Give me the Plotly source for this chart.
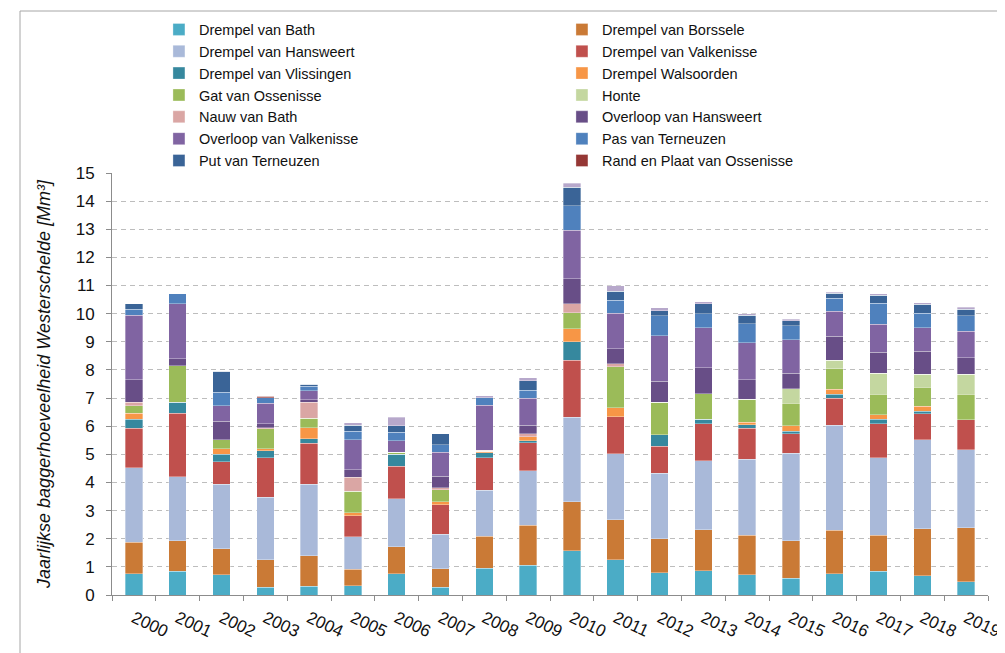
import plotly.graph_objects as go

# ── Data (Mm³ per year) ────────────────────────────────────────────────────────
years = [str(y) for y in range(2000, 2020)]

drempel_bath       = [0.76, 0.85, 0.72, 0.28, 0.32, 0.33, 0.75, 0.28, 0.95, 1.06, 1.57, 1.25, 0.79, 0.87, 0.72, 0.59, 0.76, 0.84, 0.69, 0.47]
drempel_borssele   = [1.11, 1.07, 0.93, 0.98, 1.07, 0.58, 0.96, 0.65, 1.13, 1.42, 1.75, 1.43, 1.21, 1.45, 1.41, 1.34, 1.55, 1.28, 1.66, 1.92]
drempel_hansweert  = [2.66, 2.29, 2.28, 2.21, 2.55, 1.16, 1.71, 1.23, 1.65, 1.94, 3.00, 2.34, 2.32, 2.45, 2.70, 3.10, 3.73, 2.76, 3.17, 2.78]
drempel_valkenisse = [1.40, 2.25, 0.81, 1.41, 1.45, 0.75, 1.16, 1.05, 1.15, 0.99, 2.02, 1.32, 0.97, 1.32, 1.09, 0.71, 0.95, 1.20, 0.93, 1.06]
drempel_vlissingen = [0.32, 0.39, 0.27, 0.25, 0.17, 0.00, 0.42, 0.00, 0.18, 0.08, 0.67, 0.00, 0.40, 0.15, 0.13, 0.08, 0.14, 0.16, 0.09, 0.00]
drempel_walsoorden = [0.21, 0.00, 0.19, 0.06, 0.38, 0.11, 0.00, 0.11, 0.05, 0.13, 0.45, 0.32, 0.00, 0.00, 0.09, 0.20, 0.19, 0.16, 0.17, 0.00]
gat_ossenisse      = [0.27, 1.30, 0.32, 0.72, 0.34, 0.75, 0.07, 0.42, 0.00, 0.00, 0.58, 1.46, 1.16, 0.91, 0.81, 0.79, 0.72, 0.74, 0.67, 0.91]
honte              = [0.00, 0.00, 0.00, 0.00, 0.00, 0.00, 0.00, 0.00, 0.00, 0.00, 0.00, 0.00, 0.00, 0.00, 0.00, 0.53, 0.30, 0.74, 0.47, 0.71]
nauw_bath          = [0.12, 0.00, 0.00, 0.03, 0.57, 0.50, 0.00, 0.08, 0.03, 0.12, 0.32, 0.10, 0.00, 0.00, 0.00, 0.00, 0.00, 0.00, 0.00, 0.00]
overloop_hansweert = [0.80, 0.24, 0.66, 0.14, 0.09, 0.27, 0.00, 0.40, 0.00, 0.30, 0.89, 0.53, 0.75, 0.93, 0.71, 0.55, 0.85, 0.74, 0.82, 0.59]
overloop_valkenisse= [2.29, 1.97, 0.55, 0.73, 0.32, 1.06, 0.42, 0.85, 1.61, 0.95, 1.72, 1.26, 1.61, 1.42, 1.30, 1.18, 0.89, 1.00, 0.83, 0.94]
pas_terneuzen      = [0.21, 0.35, 0.47, 0.21, 0.16, 0.31, 0.30, 0.27, 0.27, 0.29, 0.87, 0.46, 0.72, 0.50, 0.69, 0.50, 0.47, 0.75, 0.51, 0.55]
put_terneuzen      = [0.21, 0.00, 0.76, 0.00, 0.08, 0.22, 0.22, 0.40, 0.00, 0.34, 0.65, 0.32, 0.17, 0.36, 0.29, 0.18, 0.17, 0.29, 0.33, 0.23]
rand_plaat         = [0.00, 0.00, 0.00, 0.04, 0.00, 0.00, 0.00, 0.00, 0.00, 0.00, 0.00, 0.00, 0.00, 0.00, 0.00, 0.00, 0.00, 0.00, 0.00, 0.00]
# thin light-lilac top segment drawn in the bars but absent from the legend
overig             = [0.00, 0.00, 0.00, 0.00, 0.00, 0.08, 0.31, 0.00, 0.06, 0.10, 0.14, 0.21, 0.11, 0.07, 0.06, 0.05, 0.05, 0.04, 0.04, 0.06]

# ── Series: name, values, colour (bottom → top) ────────────────────────────────
SERIES = [
    ("Drempel van Bath",            drempel_bath,        "#4BACC6"),
    ("Drempel van Borssele",        drempel_borssele,    "#CA7A36"),
    ("Drempel van Hansweert",       drempel_hansweert,   "#A9B9D9"),
    ("Drempel van Valkenisse",      drempel_valkenisse,  "#C0504D"),
    ("Drempel van Vlissingen",      drempel_vlissingen,  "#36889E"),
    ("Drempel Walsoorden",          drempel_walsoorden,  "#F79646"),
    ("Gat van Ossenisse",           gat_ossenisse,       "#9BBB59"),
    ("Honte",                       honte,               "#C4D7A0"),
    ("Nauw van Bath",               nauw_bath,           "#DAA6A4"),
    ("Overloop van Hansweert",      overloop_hansweert,  "#684E87"),
    ("Overloop van Valkenisse",     overloop_valkenisse, "#8064A2"),
    ("Pas van Terneuzen",           pas_terneuzen,       "#4F81BD"),
    ("Put van Terneuzen",           put_terneuzen,       "#3A6497"),
    ("Rand en Plaat van Ossenisse", rand_plaat,          "#953735"),
]

FONT = "Liberation Sans, Arial, sans-serif"

# the page's body keeps its default 8px margin, so every position below is
# 8px up/left of where it ends up in the screenshot
W, H = 1005, 653
L, R, T, B = 104, 25, 165, 66
PW, PH = W - L - R, H - T - B

fig = go.Figure()
for name, vals, color in SERIES:
    fig.add_trace(go.Bar(
        x=years, y=vals, name=name,
        marker=dict(color=color, line=dict(color="rgba(255,255,255,0.55)", width=0.6)),
    ))
fig.add_trace(go.Bar(
    x=years, y=overig, name="Overig", showlegend=False,
    marker=dict(color="#B7A8CB", line=dict(color="rgba(255,255,255,0.55)", width=0.6)),
))

frame_x = (12 - L) / PW
frame_y = 1 + (T - 3) / PH

fig.update_layout(
    width=W, height=H,
    barmode="stack",
    bargap=0.6,
    paper_bgcolor="white",
    plot_bgcolor="white",
    font=dict(family=FONT, size=16, color="#262626"),
    margin=dict(l=L, r=R, t=T, b=B, autoexpand=False),
    legend=dict(
        orientation="h",
        traceorder="normal",
        xref="container", yref="container",
        x=0.1502, y=0.9916, xanchor="left", yanchor="top",
        entrywidth=358, entrywidthmode="pixels",
        font=dict(family=FONT, size=14.5, color="#111"),
        tracegroupgap=0,
        bgcolor="rgba(0,0,0,0)",
    ),
    xaxis=dict(
        type="category",
        tickangle=25,
        ticks="outside", tickson="boundaries", ticklen=5, tickcolor="#8C8C8C",
        ticklabelstandoff=6,
        showline=True, linecolor="#8C8C8C", linewidth=1,
        showgrid=False,
        tickfont=dict(family=FONT, size=17, color="#111"),
    ),
    yaxis=dict(
        range=[0, 15], dtick=1,
        ticks="outside", ticklen=5, tickcolor="#8C8C8C",
        ticklabelstandoff=8,
        showline=True, linecolor="#8C8C8C", linewidth=1,
        showgrid=True, gridcolor="#BDBDBD", gridwidth=1, griddash="5px,4px",
        zeroline=False,
        tickfont=dict(family=FONT, size=17, color="#111"),
        title=dict(
            text="<i>Jaarlijkse baggerhoeveelheid Westerschelde [Mm³]</i>",
            font=dict(family=FONT, size=18, color="#111"),
            standoff=20,
        ),
    ),
    shapes=[
        # outer chart frame (top and left edges visible)
        dict(type="line", xref="paper", yref="paper",
             x0=frame_x, x1=1.1, y0=frame_y, y1=frame_y,
             line=dict(color="#A6A6A6", width=1)),
        dict(type="line", xref="paper", yref="paper",
             x0=frame_x, x1=frame_x, y0=-0.3, y1=frame_y,
             line=dict(color="#A6A6A6", width=1)),
    ],
)

fig.write_html("out.html")
